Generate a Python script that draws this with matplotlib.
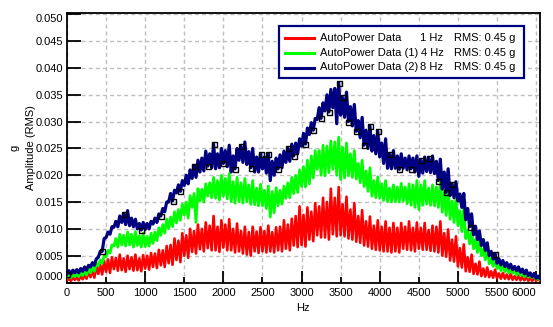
import numpy as np
import matplotlib
matplotlib.use("Agg")
import matplotlib.pyplot as plt
from matplotlib.patches import Rectangle
from matplotlib.lines import Line2D
from matplotlib.ticker import MultipleLocator, FormatStrFormatter

plt.rcParams['font.family'] = ['Liberation Sans', 'DejaVu Sans']
plt.rcParams['font.size'] = 8

# Frequency bins (Hz), 25 Hz apart; every spectrum alternates trough / peak
freq_hz = np.arange(0, 6100, 25)

auto_1hz = [
    .0004, .0007, .0003, .0009, .0005, .0010, .0004, .0013, .0006, .0014,
    .0007, .0020, .0010, .0024, .0009, .0031, .0016, .0033, .0015, .0040,
    .0020, .0043, .0018, .0047, .0025, .0046, .0022, .0052, .0023, .0045,
    .0020, .0050, .0025, .0047, .0022, .0052, .0023, .0045, .0021, .0051,
    .0026, .0050, .0024, .0055, .0029, .0054, .0027, .0061, .0032, .0060,
    .0029, .0068, .0036, .0070, .0033, .0082, .0042, .0078, .0038, .0092,
    .0050, .0088, .0046, .0100, .0057, .0096, .0054, .0108, .0062, .0100,
    .0058, .0112, .0064, .0106, .0060, .0124, .0060, .0104, .0057, .0116,
    .0065, .0108, .0060, .0118, .0060, .0100, .0056, .0110, .0058, .0096,
    .0054, .0104, .0052, .0094, .0050, .0104, .0058, .0095, .0055, .0103,
    .0058, .0096, .0056, .0106, .0058, .0094, .0056, .0103, .0060, .0104,
    .0058, .0116, .0063, .0108, .0060, .0119, .0069, .0124, .0066, .0142,
    .0070, .0126, .0067, .0140, .0080, .0132, .0077, .0148, .0088, .0142,
    .0084, .0158, .0084, .0150, .0080, .0175, .0090, .0158, .0086, .0178,
    .0088, .0146, .0086, .0160, .0082, .0136, .0080, .0148, .0076, .0124,
    .0074, .0135, .0069, .0114, .0067, .0123, .0063, .0106, .0061, .0116,
    .0060, .0104, .0058, .0114, .0058, .0102, .0056, .0111, .0058, .0102,
    .0056, .0111, .0063, .0104, .0061, .0114, .0060, .0102, .0058, .0112,
    .0063, .0102, .0061, .0111, .0061, .0098, .0059, .0106, .0058, .0104,
    .0056, .0114, .0050, .0092, .0048, .0099, .0041, .0080, .0039, .0086,
    .0030, .0064, .0028, .0071, .0021, .0047, .0020, .0052, .0016, .0035,
    .0015, .0039, .0012, .0026, .0011, .0028, .0010, .0021, .0009, .0024,
    .0008, .0017, .0007, .0018, .0007, .0015, .0006, .0016, .0005, .0012,
    .0005, .0013, .0004, .0011, .0004, .0012, .0003, .0009, .0003, .0009,
    .0003, .0008, .0003, .0007,
]

auto_4hz = [
    .0010, .0014, .0009, .0015, .0011, .0016, .0011, .0019, .0013, .0022,
    .0014, .0027, .0018, .0030, .0021, .0036, .0031, .0042, .0036, .0050,
    .0048, .0060, .0055, .0070, .0068, .0082, .0066, .0090, .0070, .0088,
    .0068, .0094, .0070, .0090, .0066, .0095, .0069, .0087, .0066, .0092,
    .0067, .0086, .0068, .0092, .0073, .0094, .0078, .0102, .0088, .0108,
    .0092, .0118, .0101, .0122, .0104, .0132, .0111, .0136, .0116, .0146,
    .0126, .0150, .0120, .0162, .0140, .0166, .0112, .0175, .0152, .0174,
    .0150, .0184, .0161, .0186, .0158, .0196, .0157, .0190, .0154, .0200,
    .0161, .0194, .0156, .0203, .0151, .0188, .0148, .0196, .0151, .0186,
    .0148, .0194, .0151, .0182, .0146, .0190, .0145, .0176, .0143, .0183,
    .0143, .0172, .0138, .0180, .0122, .0170, .0130, .0177, .0143, .0172,
    .0146, .0180, .0157, .0186, .0158, .0196, .0166, .0200, .0168, .0210,
    .0179, .0216, .0178, .0228, .0184, .0236, .0195, .0246, .0211, .0246,
    .0200, .0256, .0199, .0254, .0205, .0264, .0211, .0262, .0200, .0271,
    .0192, .0252, .0195, .0260, .0199, .0240, .0196, .0246, .0193, .0222,
    .0186, .0228, .0179, .0208, .0170, .0214, .0161, .0190, .0158, .0197,
    .0157, .0184, .0153, .0190, .0151, .0176, .0150, .0182, .0151, .0178,
    .0150, .0185, .0152, .0178, .0147, .0184, .0144, .0182, .0140, .0190,
    .0136, .0182, .0144, .0190, .0146, .0176, .0144, .0182, .0143, .0178,
    .0140, .0186, .0131, .0170, .0125, .0177, .0118, .0152, .0112, .0158,
    .0106, .0134, .0095, .0140, .0082, .0098, .0072, .0094, .0063, .0080,
    .0056, .0084, .0050, .0062, .0042, .0065, .0035, .0045, .0030, .0047,
    .0026, .0034, .0022, .0036, .0020, .0028, .0018, .0029, .0017, .0024,
    .0014, .0025, .0013, .0019, .0011, .0019, .0010, .0016, .0009, .0015,
    .0006, .0010, .0005, .0009,
]

auto_8hz = [
    .0016, .0022, .0016, .0023, .0018, .0024, .0018, .0026, .0021, .0029,
    .0023, .0032, .0029, .0037, .0032, .0044, .0047, .0058, .0058, .0082,
    .0084, .0094, .0090, .0104, .0103, .0114, .0104, .0124, .0112, .0128,
    .0108, .0134, .0106, .0120, .0104, .0118, .0100, .0110, .0098, .0112,
    .0099, .0110, .0100, .0114, .0109, .0120, .0112, .0128, .0124, .0138,
    .0132, .0150, .0150, .0166, .0152, .0172, .0167, .0182, .0170, .0190,
    .0181, .0200, .0184, .0210, .0194, .0218, .0196, .0228, .0206, .0232,
    .0208, .0245, .0217, .0240, .0214, .0258, .0212, .0240, .0214, .0250,
    .0222, .0246, .0216, .0256, .0206, .0236, .0212, .0250, .0228, .0254,
    .0224, .0262, .0220, .0244, .0214, .0250, .0206, .0234, .0206, .0240,
    .0212, .0234, .0204, .0240, .0190, .0226, .0200, .0232, .0212, .0238,
    .0214, .0245, .0224, .0250, .0226, .0258, .0236, .0260, .0240, .0268,
    .0254, .0278, .0258, .0288, .0276, .0298, .0284, .0306, .0304, .0326,
    .0306, .0335, .0320, .0350, .0318, .0360, .0326, .0362, .0296, .0372,
    .0312, .0345, .0308, .0355, .0300, .0328, .0292, .0332, .0282, .0302,
    .0270, .0308, .0256, .0284, .0250, .0292, .0245, .0274, .0240, .0282,
    .0234, .0260, .0222, .0268, .0213, .0240, .0212, .0246, .0213, .0236,
    .0211, .0240, .0213, .0232, .0210, .0236, .0212, .0232, .0206, .0236,
    .0198, .0228, .0204, .0234, .0207, .0232, .0205, .0236, .0203, .0226,
    .0190, .0230, .0174, .0206, .0168, .0212, .0162, .0184, .0158, .0188,
    .0152, .0165, .0140, .0166, .0117, .0138, .0104, .0128, .0089, .0105,
    .0080, .0096, .0069, .0080, .0060, .0074, .0050, .0058, .0044, .0054,
    .0036, .0044, .0033, .0041, .0030, .0037, .0027, .0034, .0024, .0030,
    .0022, .0029, .0019, .0025, .0016, .0023, .0013, .0018, .0011, .0017,
    .0008, .0012, .0007, .0011,
]

series_names = ["AutoPower Data", "AutoPower Data (1)", "AutoPower Data (2)"]
resolutions = ["1 Hz", "4 Hz", "8 Hz"]
rms_texts = ["RMS: 0.45 g", "RMS: 0.45 g", "RMS: 0.45 g"]
colors = ["#ff0000", "#00ff00", "#000080"]

# sample points carrying a square marker on the 8 Hz trace
marker_idx = [0, 18, 29, 38, 48, 54, 58, 65, 72, 75, 80, 86, 89, 94, 99, 103,
              108, 113, 116, 122, 126, 130, 134, 139, 141, 144, 148, 152, 155,
              159, 165, 170, 176, 181, 185, 190, 194, 197, 206, 219]

W, H = 553, 327
fig = plt.figure(figsize=(W / 100, H / 100), dpi=100)
ax = fig.add_axes([67 / W, 1 - 282.5 / H, (540 - 67) / W, (282.5 - 13.3) / H])

ax.plot(freq_hz, auto_1hz, color=colors[0], lw=1.9, zorder=3)
ax.plot(freq_hz, auto_4hz, color=colors[1], lw=2.0, zorder=4)
ax.plot(freq_hz, auto_8hz, color=colors[2], lw=2.3, zorder=5,
        marker='s', markevery=marker_idx, mfc='none', mec='black', ms=3.6, mew=1.0)

ax.set_xlim(0, 6050)
ax.set_ylim(0, 0.0502)

ax.xaxis.set_major_locator(MultipleLocator(1000))
ax.xaxis.set_minor_locator(MultipleLocator(500))
ax.xaxis.set_major_formatter(FormatStrFormatter('%d'))
ax.xaxis.set_minor_formatter(FormatStrFormatter('%d'))
ax.yaxis.set_major_locator(MultipleLocator(0.005))
ax.yaxis.set_major_formatter(FormatStrFormatter('%.3f'))

ax.tick_params(axis='x', which='major', direction='in', length=8.6, width=1.3,
               pad=4, labelsize=8)
ax.tick_params(axis='x', which='minor', direction='in', length=4.3, width=1.3,
               pad=4, labelsize=8)
ax.tick_params(axis='y', which='major', direction='in', length=10, width=1.3,
               pad=3, labelsize=8)

ax.grid(True, which='both', axis='x', color='#c0c0c0', lw=1.0, linestyle=(0, (2.9, 2.2)))
ax.grid(True, which='major', axis='y', color='#c0c0c0', lw=1.0, linestyle=(0, (2.9, 2.2)))
ax.set_axisbelow(True)

for sp in ax.spines.values():
    sp.set_linewidth(1.3)
    sp.set_color('black')

# keep the end labels inside the plot frame
fig.canvas.draw()
for t in ax.yaxis.get_major_ticks():
    v = t.get_loc()
    if abs(v) < 1e-9:
        t.label1.set_verticalalignment('bottom')
    elif abs(v - 0.050) < 1e-9:
        t.label1.set_verticalalignment('top')
for t in ax.xaxis.get_major_ticks():
    if abs(t.get_loc() - 6000) < 1e-6:
        t.label1.set_horizontalalignment('right')

fig.text(303 / W, 1 - 308 / H, "Hz", ha='center', va='center', fontsize=8)
fig.text(15 / W, 1 - 148 / H, "g", ha='center', va='center', rotation=90, fontsize=8)
fig.text(31 / W, 1 - 148 / H, "Amplitude (RMS)", ha='center', va='center',
         rotation=90, fontsize=8)


def fx(px):
    return px / W


def fy(py):
    return 1 - py / H


# legend box
fig.add_artist(Rectangle((fx(279), fy(78)), fx(524) - fx(279), fy(26) - fy(78),
                         transform=fig.transFigure, facecolor='white',
                         edgecolor='#000080', lw=1.6, zorder=10))
rows_y = [38, 53, 67.5]
for name, res, rms, c, ry in zip(series_names, resolutions, rms_texts, colors, rows_y):
    fig.add_artist(Line2D([fx(285), fx(314)], [fy(ry), fy(ry)], color=c, lw=2.2,
                          transform=fig.transFigure, zorder=11))
    fig.text(fx(319.5), fy(ry), name, ha='left', va='center', fontsize=8, zorder=12)
    fig.text(fx(443.5), fy(ry), res, ha='right', va='center', fontsize=8, zorder=12)
    fig.text(fx(454.5), fy(ry), rms, ha='left', va='center', fontsize=8, zorder=12)

fig.savefig("out.png", dpi=100)
